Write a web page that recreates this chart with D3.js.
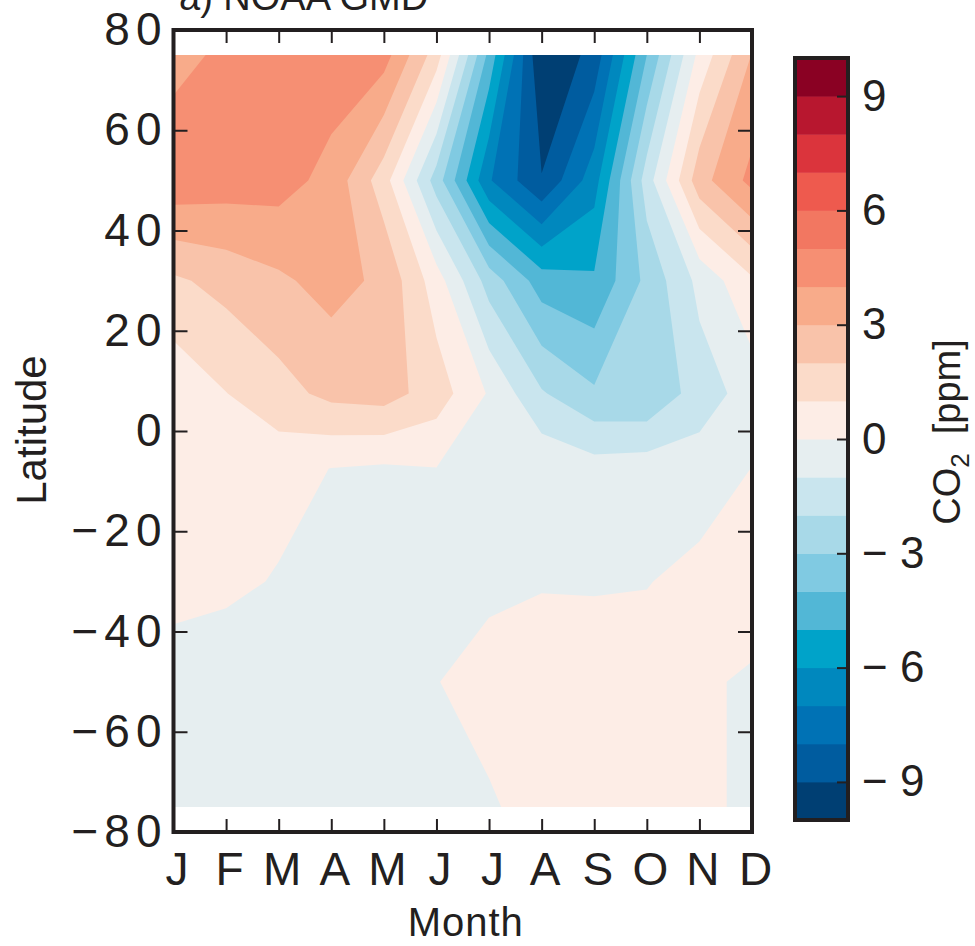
<!DOCTYPE html>
<html>
<head>
<meta charset="utf-8">
<script src="https://cdn.jsdelivr.net/npm/d3@7"></script>
<style>
  html, body { margin: 0; padding: 0; background: #fff; }
  svg { display: block; }
</style>
</head>
<body>
<svg id="chart" width="975" height="946"></svg>
<script>
// ---- data -------------------------------------------------------------
const months = ["J", "F", "M", "A", "M", "J", "J", "A", "S", "O", "N", "D"];
const latitudes = [75, 50, 30, 7.5, -7.5, -30, -50, -75];

// monthly CO2 anomaly [ppm] per latitude band, Jan..Dec
const co2_75N = [3.67, 4.21, 4.5, 4.55, 4.42, 1.5, -4.3, -10.0, -8.65, -4.0, 0.3, 3.05];
const co2_50N = [4.7, 4.5, 4.41, 3.68, 1.45, -2.47, -6.9, -8.94, -6.43, -1.5, 2.6, 4.3];
const co2_30N = [1.83, 2.33, 2.83, 3.35, 2.79, 0.47, -2.43, -4.5, -4.85, -2.74, -0.72, 0.85];
const co2_7N  = [0.27, 0.98, 1.62, 2.28, 2.43, 1.52, -0.1, -1.9, -2.85, -2.93, -1.5, -0.56];
const co2_7S  = [0.3, 0.4, 0.4, -0.02, -0.15, -0.024, -0.01, -0.21, -0.57, -0.45, -0.53, 0.015];
const co2_30S = [0.3, 0.25, -0.084, -0.3, -0.3, -0.3, -0.08, -0.05, -0.07, -0.04, 0.29, 0.4];
const co2_50S = [-0.4, -0.68, -0.5, -0.5, -0.4, -0.0107, 0.142, 0.37, 0.4, 0.46, 0.108, -0.1];
const co2_75S = [-0.5, -0.5, -0.4, -0.4, -0.3, -0.3, -0.042, 0.14, 0.3, 0.3, 0.108, -0.1];

const latTicks = [80, 60, 40, 20, 0, -20, -40, -60, -80];
const barTicks = [9, 6, 3, 0, -3, -6, -9];

// contour levels: lower bound of each 1 ppm band, with its fill
const levels = d3.range(-10, 10, 1);
const bandColors = [
  "#003f73", "#005c9f", "#0072b5", "#0088be", "#00a3c9",
  "#52b7d6", "#80cae2", "#a8d9e8", "#c9e5ee", "#e6eef0",
  "#fdede6", "#fbdbc9", "#f9c3aa", "#f8ab8a", "#f68f73",
  "#f27761", "#ee5a4e", "#db343c", "#b8172f", "#8a0123"
];

// ---- layout -----------------------------------------------------------
const FONT = "'Liberation Sans', Arial, Helvetica, sans-serif";
const ink = "#231f20";
const frame = { left: 173.5, right: 752, top: 30, bottom: 832 };
const bar = { left: 795, right: 848, top: 58, bottom: 820 };

const svg = d3.select("#chart");

const x = d3.scaleLinear().domain([0, months.length - 1]).range([frame.left, frame.right]);
const y = d3.scaleLinear().domain([-80, 80]).range([frame.bottom, frame.top]);

// ---- filled contours --------------------------------------------------
const grid = [co2_75N, co2_50N, co2_30N, co2_7N, co2_7S, co2_30S, co2_50S, co2_75S];
const nx = months.length, ny = latitudes.length;
const values = grid.flat();
const rowLat = d3.scaleLinear().domain(d3.range(ny)).range(latitudes);
const clamp = (v, lo, hi) => Math.max(lo, Math.min(hi, v));

// grid coordinates (cell centres at i + 0.5) -> month / latitude -> pixels
const toPixels = d3.geoTransform({
  point(cx, cy) {
    const m = clamp(cx - 0.5, 0, nx - 1);
    const r = clamp(cy - 0.5, 0, ny - 1);
    this.stream.point(x(m), y(rowLat(r)));
  }
});
const path = d3.geoPath(toPixels);

const bands = d3.contours().size([nx, ny]).thresholds(levels)(values);

svg.append("g")
  .selectAll("path")
  .data(bands)
  .join("path")
  .attr("d", path)
  .attr("fill", (d, i) => bandColors[i]);

// ---- axes -------------------------------------------------------------
const fmt = v => (v < 0 ? "\u2212" + Math.abs(v) : String(v));

const yAxis = svg.append("g")
  .attr("transform", `translate(${frame.left},0)`)
  .call(d3.axisLeft(y).tickValues(latTicks).tickSize(-14).tickPadding(6).tickFormat(fmt));
yAxis.select(".domain").remove();
yAxis.selectAll("text")
  .attr("font-family", FONT).attr("font-size", 46).attr("fill", ink)
  .attr("letter-spacing", 6);

const yAxisR = svg.append("g")
  .attr("transform", `translate(${frame.right},0)`)
  .call(d3.axisRight(y).tickValues(latTicks).tickSize(-14).tickFormat(""));
yAxisR.select(".domain").remove();

const xAxis = svg.append("g")
  .attr("transform", `translate(0,${frame.bottom})`)
  .call(d3.axisBottom(x).tickValues(d3.range(nx)).tickSize(-13).tickPadding(20)
    .tickFormat(i => months[i]));
xAxis.select(".domain").remove();
xAxis.selectAll("text")
  .attr("font-family", FONT).attr("font-size", 46).attr("fill", ink)
  .attr("dx", 3);

const xAxisT = svg.append("g")
  .attr("transform", `translate(0,${frame.top})`)
  .call(d3.axisTop(x).tickValues(d3.range(nx)).tickSize(-13).tickFormat(""));
xAxisT.select(".domain").remove();

svg.selectAll(".tick line").attr("stroke", ink).attr("stroke-width", 2);

svg.append("rect")
  .attr("x", frame.left).attr("y", frame.top)
  .attr("width", frame.right - frame.left).attr("height", frame.bottom - frame.top)
  .attr("fill", "none").attr("stroke", ink).attr("stroke-width", 4);

// axis titles
svg.append("text")
  .attr("x", (frame.left + frame.right) / 2 + 3).attr("y", 936)
  .attr("text-anchor", "middle")
  .attr("font-family", FONT).attr("font-size", 40).attr("fill", ink)
  .attr("letter-spacing", 1)
  .text("Month");

svg.append("text")
  .attr("transform", "translate(46,430) rotate(-90)")
  .attr("text-anchor", "middle")
  .attr("font-family", FONT).attr("font-size", 42).attr("fill", ink)
  .text("Latitude");

// panel title, sitting mostly above the page edge
svg.append("text")
  .attr("x", 179).attr("y", 10)
  .attr("font-family", FONT).attr("font-size", 38).attr("fill", ink)
  .text("a) NOAA GMD");

// ---- colour bar -------------------------------------------------------
const cb = d3.scaleLinear().domain([-10, 10]).range([bar.bottom, bar.top]);

svg.append("g")
  .selectAll("rect")
  .data(levels)
  .join("rect")
  .attr("x", bar.left)
  .attr("y", d => cb(d + 1))
  .attr("width", bar.right - bar.left)
  .attr("height", d => cb(d) - cb(d + 1) + 0.5)
  .attr("fill", (d, i) => bandColors[i]);

const barAxis = svg.append("g")
  .attr("transform", `translate(${bar.right},0)`)
  .call(d3.axisRight(cb).tickValues(barTicks).tickSize(-11).tickPadding(14)
    .tickFormat(v => (v < 0 ? "\u2212 " + Math.abs(v) : String(v))));
barAxis.select(".domain").remove();
barAxis.selectAll(".tick line").attr("stroke", ink).attr("stroke-width", 2);
barAxis.selectAll("text")
  .attr("font-family", FONT).attr("font-size", 44).attr("fill", ink);

svg.append("rect")
  .attr("x", bar.left).attr("y", bar.top)
  .attr("width", bar.right - bar.left).attr("height", bar.bottom - bar.top)
  .attr("fill", "none").attr("stroke", ink).attr("stroke-width", 4);

const cbLabel = svg.append("text")
  .attr("transform", "translate(960,432) rotate(-90)")
  .attr("text-anchor", "middle")
  .attr("font-family", FONT).attr("font-size", 38).attr("fill", ink);
cbLabel.append("tspan").text("CO");
cbLabel.append("tspan").attr("font-size", 26).attr("dy", 9).text("2");
cbLabel.append("tspan").attr("dy", -9).text("\u2002[ppm]");
</script>
</body>
</html>
